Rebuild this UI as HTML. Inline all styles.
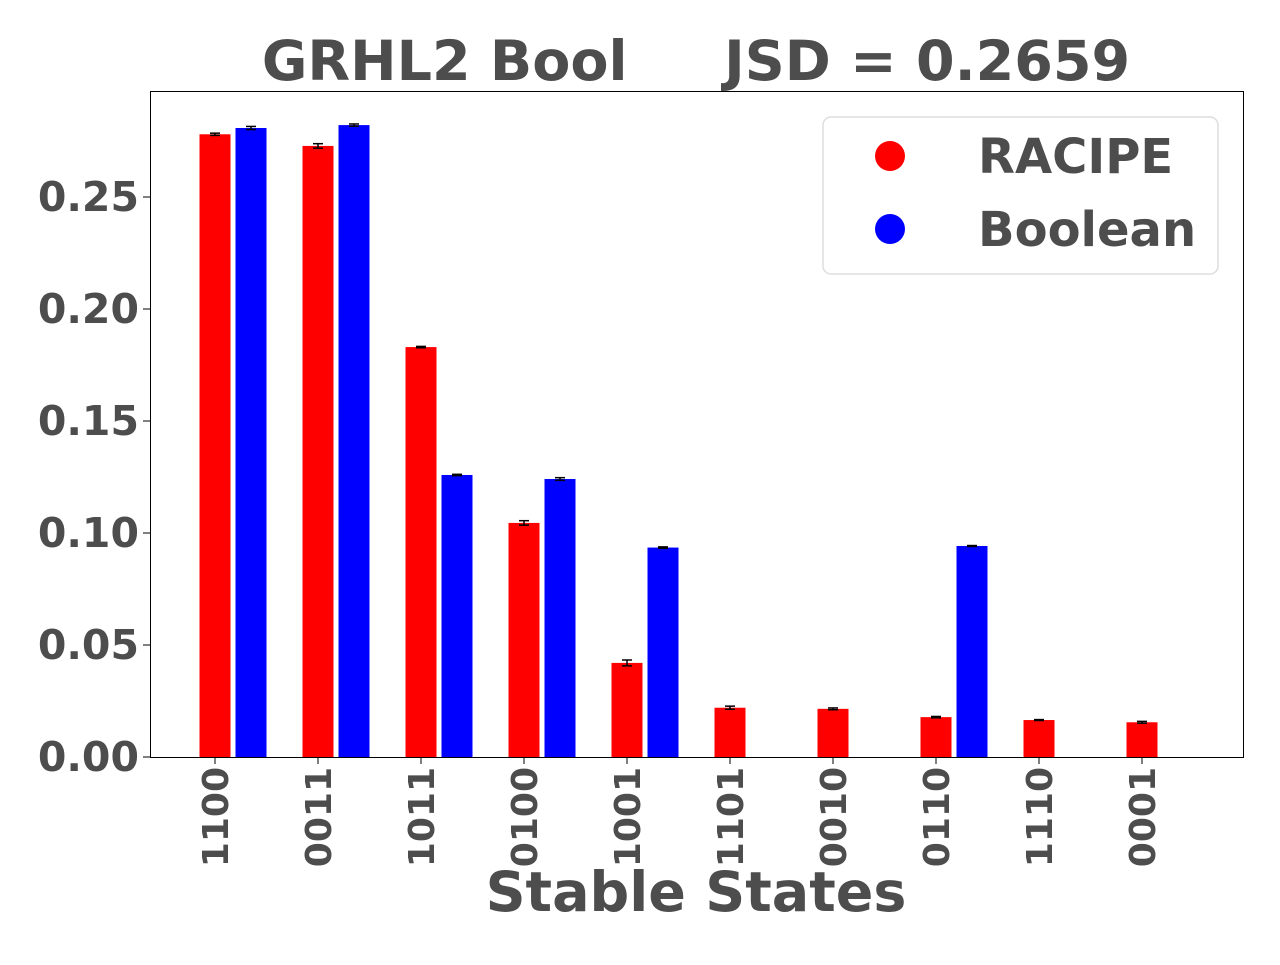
<!DOCTYPE html>
<html><head><meta charset="utf-8"><style>
html,body{margin:0;padding:0;background:#fff;}
svg text{font-family:"DejaVu Sans","Liberation Sans",sans-serif;font-weight:bold;fill:#4d4d4d;}
</style></head><body>
<svg id="chart" width="1280" height="960" xmlns="http://www.w3.org/2000/svg">
<text x="696" y="80" font-size="55.5" text-anchor="middle" xml:space="preserve">GRHL2 Bool     JSD = 0.2659</text>
<rect x="150.5" y="91.5" width="1093" height="666" fill="none" stroke="#000" stroke-width="1"/>
<g id="bars"></g><g id="yticks"></g><g id="xticks"></g>
<text x="696" y="911" font-size="55.5" text-anchor="middle">Stable States</text>
<g>
<rect x="823" y="117" width="395" height="157" rx="8" fill="#fff" stroke="#ddd" stroke-width="1.5"/>
<circle cx="890" cy="156" r="15" fill="#ff0000"/>
<text x="978" y="173" font-size="48">RACIPE</text>
<circle cx="890" cy="229" r="15" fill="#0000ff"/>
<text x="978" y="246" font-size="48">Boolean</text>
</g>
</svg>
<script>
const categories=["1100","0011","1011","0100","1001","1101","0010","0110","1110","0001"];
const racipe=[0.278,0.2728,0.183,0.1045,0.042,0.022,0.0215,0.0178,0.0165,0.0155];
const boolean=[0.2808,0.2821,0.1259,0.1241,0.0935,0,0,0.0942,0,0];
const racipeErr=[0.0005,0.001,0.0003,0.001,0.0013,0.0007,0.0004,0.0003,0.0002,0.0004];
const booleanErr=[0.0007,0.0005,0.0003,0.0006,0.0003,0,0,0.0002,0,0];
const yTicks=[0,0.05,0.10,0.15,0.20,0.25];
const yTickLabels=["0.00","0.05","0.10","0.15","0.20","0.25"];
const NS="http://www.w3.org/2000/svg";
function y(v){return 757-v*2240;}
function x(i){return 215+i*103;}
function mk(tag,attrs,parent){const e=document.createElementNS(NS,tag);for(const k in attrs)e.setAttribute(k,attrs[k]);parent.appendChild(e);return e;}
const bars=document.getElementById('bars'),yt=document.getElementById('yticks'),xt=document.getElementById('xticks');
const bw=31;
function drawBar(cx,v,err,color,name){
  const r=mk('rect',{x:cx-bw/2,y:y(v),width:bw,height:757-y(v),fill:color},bars);
  
  
  if(v>0){
    const g=mk('g',{stroke:'#000','stroke-width':1.5},bars);
    
    
    mk('line',{x1:cx,x2:cx,y1:y(v+err),y2:y(v-err)},g);
    mk('line',{x1:cx-5,x2:cx+5,y1:y(v+err),y2:y(v+err)},g);
    mk('line',{x1:cx-5,x2:cx+5,y1:y(v-err),y2:y(v-err)},g);
  }
}
categories.forEach((c,i)=>{
  drawBar(x(i),racipe[i],racipeErr[i],'#ff0000','bar-racipe-'+c);
  drawBar(x(i)+36,boolean[i],booleanErr[i],'#0000ff','bar-boolean-'+c);
  mk('line',{x1:x(i),x2:x(i),y1:757,y2:764,stroke:'#000','stroke-width':1},xt);
  const t=mk('text',{x:0,y:0,'font-size':36,'text-anchor':'end',transform:`translate(${x(i)+13},767) rotate(-90)`},xt);
  t.textContent=c;
  
  
});
yTicks.forEach((v,i)=>{
  mk('line',{x1:143,x2:150,y1:y(v),y2:y(v),stroke:'#000','stroke-width':1},yt);
  const t=mk('text',{x:139,y:y(v)+14,'font-size':41,'text-anchor':'end'},yt);
  t.textContent=yTickLabels[i];
  
  
});
</script>
</body></html>
